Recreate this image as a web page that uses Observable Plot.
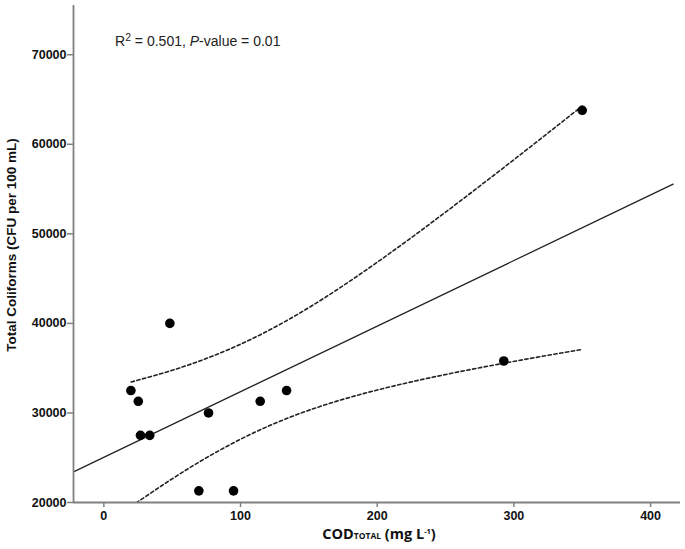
<!DOCTYPE html>
<html>
<head>
<meta charset="utf-8">
<script src="https://cdn.jsdelivr.net/npm/d3@7"></script>
<script src="https://cdn.jsdelivr.net/npm/@observablehq/plot@0.6"></script>
<style>
  body { margin: 0; background: #fff; }
  #chart svg { display: block; }
</style>
</head>
<body>
<div id="chart"></div>
<script>
// Observed points
const codTotal  = [350, 292.6, 48.3, 19.8, 25.2, 26.8, 33.6, 76.6, 114.4, 133.7, 69.5, 94.9];
const coliforms = [63800, 35800, 40000, 32500, 31300, 27500, 27500, 30000, 31300, 32500, 21300, 21300];

// Fitted line (solid) read at its two ends
const fitX = [-22.2, 416.5];
const fitY = [23417, 55553];

// 95% confidence band (dashed)
const bandX     = [20, 50, 80, 110, 140, 170, 200, 230, 260, 290, 320, 350];
const bandUpper = [33456, 34766, 36379, 38395, 40854, 43700, 46828, 50143, 53580, 57096, 60667, 64274];
const bandLower = [19562, 22646, 25429, 27807, 29744, 31294, 32560, 33641, 34600, 35478, 36303, 37090];

// Axes
const xTicks = [0, 100, 200, 300, 400];
const yTicks = [20000, 30000, 40000, 50000, 60000, 70000];
const xDomain = [-22.2, 421.9];
const yDomain = [20000, 75500];

const points = codTotal.map((x, i) => ({x, y: coliforms[i]}));
const fitRows = fitX.map((x, i) => ({x, y: fitY[i]}));
const bandRows = bandX.map((x, i) => ({x, upper: bandUpper[i], lower: bandLower[i]}));

const axisGray = "#808080";

const plot = Plot.plot({
  width: 685,
  height: 549,
  marginLeft: 73,
  marginRight: 5,
  marginTop: 5,
  marginBottom: 47,
  style: {fontFamily: "'Liberation Sans', Arial, sans-serif", fontSize: "12.5px", fontWeight: "bold", color: "#111", background: "#fff"},
  x: {domain: xDomain, label: null},
  y: {domain: yDomain, label: null},
  marks: [
    Plot.axisX(xTicks, {tickSize: 5, tickPadding: 4, stroke: axisGray, strokeWidth: 1.5, fill: "#111", fontWeight: "bold", fontSize: 12.5, label: null, tickFormat: d3.format("d")}),
    Plot.axisY(yTicks, {tickSize: 6, tickPadding: 1, stroke: axisGray, strokeWidth: 1.5, fill: "#111", fontWeight: "bold", fontSize: 12.5, label: null, tickFormat: d3.format("d")}),
    Plot.line(bandRows, {x: "x", y: "upper", curve: "natural", stroke: "#222", strokeWidth: 1.6, strokeDasharray: "3.3,2.6", clip: true}),
    Plot.line(bandRows, {x: "x", y: "lower", curve: "natural", stroke: "#222", strokeWidth: 1.6, strokeDasharray: "3.3,2.6", clip: true}),
    Plot.line(fitRows, {x: "x", y: "y", stroke: "#222", strokeWidth: 1.3, clip: true}),
    Plot.dot(points, {x: "x", y: "y", r: 4.8, fill: "#000", stroke: "none"}),
    Plot.ruleY([yDomain[0]], {stroke: axisGray, strokeWidth: 1.8}),
    Plot.ruleX([xDomain[0]], {stroke: axisGray, strokeWidth: 1.8}),
    Plot.text(["Total Coliforms (CFU per 100 mL)"], {frameAnchor: "left", rotate: -90, dx: -58, dy: -9, textAnchor: "middle", lineAnchor: "bottom", fontSize: 13.5, fontWeight: "bold", fill: "#111"})
  ]
});

const svg = d3.select(plot);

// Statistics annotation
const ann = svg.append("text")
  .attr("x", 115).attr("y", 46)
  .attr("text-anchor", "start")
  .attr("font-family", "'Liberation Sans', Arial, sans-serif")
  .attr("font-size", 14).attr("font-weight", "normal").attr("fill", "#222");
ann.append("tspan").text("R");
ann.append("tspan").attr("font-size", 10.5).attr("dy", -5).text("2");
ann.append("tspan").attr("dy", 5).text(" = 0.501, ");
ann.append("tspan").attr("font-style", "italic").text("P");
ann.append("tspan").text("-value = 0.01");

// X axis title
const xl = svg.append("text")
  .attr("x", 379).attr("y", 539)
  .attr("text-anchor", "middle")
  .attr("font-family", "'Open Sans', sans-serif")
  .attr("font-size", 14.5).attr("font-weight", "bold").attr("fill", "#111");
xl.append("tspan").text("COD");
xl.append("tspan").attr("font-size", 8.5).text("TOTAL");
xl.append("tspan").text(" (mg L");
xl.append("tspan").attr("font-size", 7.5).attr("dy", -5).text("-1");
xl.append("tspan").attr("dy", 5).text(")");

document.getElementById("chart").appendChild(plot);
</script>
</body>
</html>
